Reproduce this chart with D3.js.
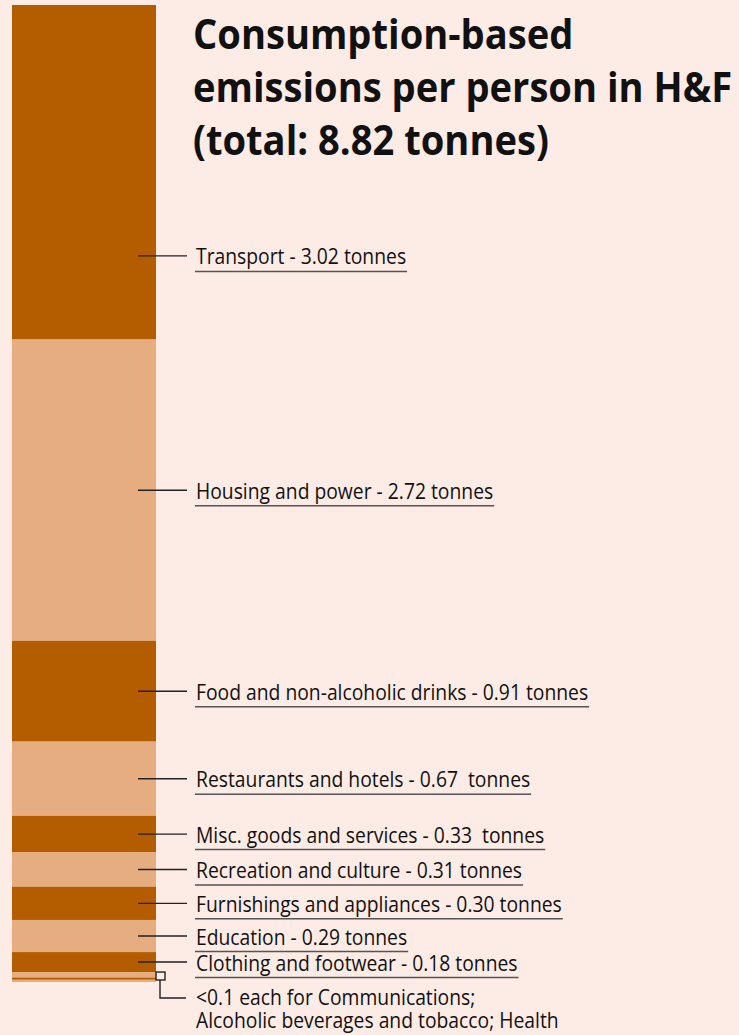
<!DOCTYPE html>
<html>
<head>
<meta charset="utf-8">
<script src="https://cdn.jsdelivr.net/npm/d3@7"></script>
<style>
  html, body { margin: 0; padding: 0; background: #fdebe5; }
  svg { display: block; }
  text { white-space: pre; }
</style>
</head>
<body>
<script>
// first category sits at the top of the bar
const categories = ['Transport', 'Housing and power', 'Food and non-alcoholic drinks',
  'Restaurants and hotels', 'Misc. goods and services', 'Recreation and culture',
  'Furnishings and appliances', 'Education', 'Clothing and footwear',
  'Communications', 'Alcoholic beverages and tobacco', 'Health']
const values = [3.02, 2.72, 0.91, 0.67, 0.33, 0.31, 0.30, 0.29, 0.18, 0.05, 0.02, 0.02]
const labels = ['Transport - 3.02 tonnes', 'Housing and power - 2.72 tonnes',
  'Food and non-alcoholic drinks - 0.91 tonnes', 'Restaurants and hotels - 0.67  tonnes',
  'Misc. goods and services - 0.33  tonnes', 'Recreation and culture - 0.31 tonnes',
  'Furnishings and appliances - 0.30 tonnes', 'Education - 0.29 tonnes',
  'Clothing and footwear - 0.18 tonnes']
const smallNote = ['<0.1 each for Communications;', 'Alcoholic beverages and tobacco; Health']
const titleLines = ['Consumption-based', 'emissions per person in H&F', '(total: 8.82 tonnes)']

const width = 739
const height = 1035
const dark = '#b35c00'
const light = '#e6ae80'
const font = '"Open Sans", "Noto Sans", sans-serif'
const sxLabel = 0.92 // squeeze text, the original face is condensed
const sxTitle = 0.93

const svg = d3.select('body').append('svg')
  .attr('width', width)
  .attr('height', height)

const ends = Array.from(d3.cumsum(values))
const segs = values.map((v, i) => ({ cat: categories[i], v: v, y0: ends[i] - v, y1: ends[i], i: i }))

const y = d3.scaleLinear()
  .domain([0, d3.sum(values)])
  .range([5, 982])

const barX = 12
const barW = 144

svg.append('g').selectAll('rect')
  .data(segs)
  .enter()
  .append('rect')
  .attr('x', barX)
  .attr('y', d => y(d.y0))
  .attr('width', barW)
  .attr('height', d => y(d.y1) - y(d.y0))
  .attr('fill', d => d.i % 2 === 0 ? dark : light)

// title
const title = svg.append('g')
titleLines.forEach((t, i) => {
  title.append('text')
    .attr('transform', `translate(193, ${49 + i * 53}) scale(${sxTitle}, 1)`)
    .style('font-family', font)
    .style('font-weight', 700)
    .style('font-size', '41px')
    .attr('fill', '#111')
    .text(t)
})

// labels
const lab = svg.append('g')
labels.forEach((t, i) => {
  const s = segs[i]
  // first label is pushed down to clear the title
  const f = i === 0 ? 0.75 : 0.5
  const ly = y(s.y0 + (s.y1 - s.y0) * f)
  lab.append('line')
    .attr('x1', 138).attr('x2', 187)
    .attr('y1', ly).attr('y2', ly)
    .attr('stroke', '#222')
    .attr('stroke-width', 1.4)
  const txt = lab.append('text')
    .attr('transform', `translate(196, ${ly + 8.5}) scale(${sxLabel}, 1)`)
    .style('font-family', font)
    .style('font-size', '21px')
    .attr('fill', '#111')
    .text(t)
  const w = txt.node().getComputedTextLength() * sxLabel
  lab.append('line')
    .attr('x1', 195).attr('x2', 197 + w)
    .attr('y1', ly + 15.5).attr('y2', ly + 15.5)
    .attr('stroke', '#555')
    .attr('stroke-width', 1.5)
})

// bracket for the tiny segments
const first = segs[9]
const last = segs[segs.length - 1]
const bTop = y(first.y0)
const bBot = y(last.y1) - 2
lab.append('rect')
  .attr('x', 156).attr('y', bTop)
  .attr('width', 9).attr('height', bBot - bTop)
  .attr('fill', 'none')
  .attr('stroke', '#222')
  .attr('stroke-width', 1.4)
lab.append('path')
  .attr('d', `M160,${bBot} V998 H186`)
  .attr('fill', 'none')
  .attr('stroke', '#222')
  .attr('stroke-width', 1.4)
smallNote.forEach((t, i) => {
  lab.append('text')
    .attr('transform', `translate(196, ${1005 + i * 23}) scale(${sxLabel}, 1)`)
    .style('font-family', font)
    .style('font-size', '21px')
    .attr('fill', '#111')
    .text(t)
})
</script>
</body>
</html>
